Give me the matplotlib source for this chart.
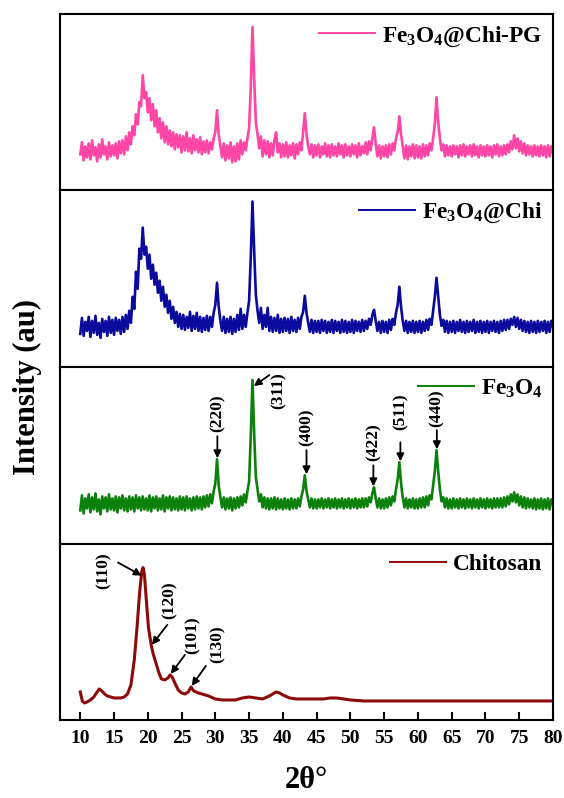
import numpy as np
import matplotlib.pyplot as plt

plt.rcParams['font.family'] = 'Liberation Serif'
plt.rcParams['font.weight'] = 'bold'
plt.rcParams['mathtext.fontset'] = 'custom'
plt.rcParams['mathtext.rm'] = 'Liberation Serif:bold'
plt.rcParams['mathtext.bf'] = 'Liberation Serif:bold'
plt.rcParams['mathtext.it'] = 'Liberation Serif:bold:italic'
plt.rcParams['mathtext.default'] = 'rm'

# 2theta sampling of the three magnetite scans (step 0.25 deg)
two_theta = np.arange(10, 80.001, 0.25)

fe3o4_chi_pg = [
    36, 48, 30, 44, 33, 47, 31, 50, 35, 43, 29, 46, 33, 51, 36, 44, 31, 48, 34, 45,
    35, 47, 32, 49, 37, 50, 36, 54, 40, 58, 46, 64, 55, 76, 66, 88, 84, 115, 92, 98,
    78, 92, 70, 86, 64, 80, 58, 72, 52, 68, 48, 64, 46, 60, 44, 58, 41, 56, 43, 55,
    38, 54, 40, 58, 39, 52, 37, 55, 40, 51, 38, 53, 36, 49, 38, 50, 37, 48, 41, 52,
    58, 80, 56, 44, 33, 47, 30, 45, 32, 48, 28, 44, 29, 47, 31, 50, 36, 48, 40, 52,
    62, 104, 163, 112, 68, 56, 42, 54, 34, 50, 36, 49, 33, 47, 35, 50, 58, 38, 47, 33,
    46, 34, 48, 33, 45, 35, 47, 32, 46, 36, 48, 40, 58, 77, 56, 44, 36, 46, 33, 45,
    35, 46, 33, 44, 36, 47, 34, 45, 33, 46, 35, 44, 34, 47, 36, 45, 33, 46, 35, 44,
    34, 46, 36, 45, 33, 47, 35, 44, 37, 48, 36, 49, 40, 52, 63, 46, 34, 45, 32, 44,
    34, 45, 33, 46, 36, 47, 40, 52, 58, 74, 56, 44, 32, 45, 31, 44, 34, 46, 32, 45,
    33, 44, 32, 46, 34, 45, 35, 47, 40, 52, 66, 93, 68, 52, 40, 46, 34, 45, 35, 44,
    34, 45, 36, 44, 33, 45, 35, 46, 34, 44, 36, 45, 34, 46, 35, 44, 33, 45, 35, 44,
    34, 45, 35, 44, 33, 45, 36, 46, 34, 44, 35, 45, 36, 46, 38, 49, 41, 55, 42, 52,
    39, 49, 37, 47, 35, 45, 36, 44, 34, 45, 35, 44, 34, 45, 35, 44, 33, 45, 34, 44, 38,
]

fe3o4_chi = [
    33, 49, 31, 45, 36, 50, 30, 46, 34, 51, 32, 44, 29, 48, 35, 46, 31, 50, 34, 47,
    32, 49, 36, 47, 33, 50, 35, 52, 38, 56, 44, 70, 58, 95, 78, 118, 108, 139, 112, 120,
    98, 112, 88, 102, 82, 94, 74, 86, 66, 80, 60, 72, 54, 66, 48, 60, 44, 55, 40, 53,
    38, 52, 37, 50, 39, 55, 36, 51, 38, 54, 36, 50, 35, 49, 37, 51, 36, 50, 40, 54,
    62, 84, 60, 46, 36, 50, 34, 48, 35, 50, 33, 48, 35, 52, 37, 58, 38, 52, 40, 54,
    66, 110, 165, 116, 72, 56, 44, 59, 38, 52, 40, 59, 36, 50, 35, 49, 36, 52, 34, 48,
    35, 49, 36, 48, 34, 50, 36, 47, 35, 49, 38, 50, 55, 71, 54, 44, 35, 47, 34, 46,
    35, 46, 34, 47, 36, 46, 34, 45, 35, 47, 34, 46, 36, 45, 34, 47, 35, 46, 34, 45,
    35, 47, 34, 46, 36, 45, 35, 47, 36, 46, 38, 48, 42, 52, 57, 46, 36, 45, 34, 46,
    35, 45, 34, 47, 37, 48, 42, 54, 62, 80, 60, 46, 36, 46, 34, 45, 35, 46, 34, 45,
    35, 46, 34, 45, 36, 47, 37, 48, 42, 56, 70, 89, 70, 52, 41, 47, 35, 46, 34, 45,
    35, 46, 34, 45, 36, 47, 35, 45, 34, 46, 35, 45, 36, 47, 34, 45, 35, 46, 34, 45,
    35, 46, 34, 45, 36, 46, 35, 45, 34, 46, 36, 47, 37, 47, 38, 48, 42, 50, 40, 49,
    38, 47, 36, 46, 35, 45, 34, 46, 35, 45, 34, 46, 35, 45, 36, 46, 34, 45, 35, 46, 40,
]

fe3o4 = [
    33, 48, 30, 45, 35, 49, 31, 46, 34, 50, 32, 44, 29, 47, 35, 46, 32, 49, 34, 45,
    33, 47, 31, 46, 35, 48, 33, 45, 32, 47, 34, 46, 32, 48, 35, 46, 33, 47, 34, 45,
    33, 48, 32, 46, 35, 47, 33, 45, 34, 48, 32, 46, 35, 47, 33, 46, 34, 45, 33, 47,
    34, 46, 33, 47, 35, 45, 33, 46, 34, 47, 35, 46, 34, 47, 36, 48, 37, 49, 40, 52,
    60, 84, 58, 46, 36, 46, 34, 45, 35, 46, 33, 45, 35, 46, 36, 47, 38, 49, 41, 52,
    62, 108, 163, 110, 66, 54, 42, 49, 36, 46, 35, 45, 34, 45, 35, 46, 34, 45, 35, 44,
    34, 45, 35, 44, 34, 45, 35, 44, 35, 45, 37, 47, 54, 68, 52, 44, 36, 45, 35, 44,
    35, 44, 36, 45, 35, 44, 36, 45, 35, 44, 36, 45, 35, 44, 36, 45, 35, 44, 36, 45,
    35, 44, 36, 45, 35, 44, 36, 45, 36, 45, 37, 46, 41, 50, 56, 45, 36, 45, 35, 44,
    35, 45, 36, 46, 38, 47, 42, 54, 64, 81, 60, 46, 36, 45, 35, 44, 36, 45, 35, 44,
    35, 45, 36, 46, 36, 47, 38, 48, 44, 58, 72, 93, 72, 54, 42, 46, 36, 45, 35, 44,
    35, 45, 36, 44, 35, 45, 36, 44, 35, 45, 36, 44, 35, 45, 36, 44, 35, 45, 36, 44,
    35, 45, 36, 44, 35, 45, 36, 45, 36, 45, 36, 46, 37, 47, 39, 49, 42, 51, 41, 49,
    38, 47, 36, 46, 35, 45, 36, 44, 35, 45, 34, 44, 35, 45, 34, 44, 35, 45, 34, 44, 39,
]

chitosan_2theta = [10.0, 10.3, 10.6, 11.0, 11.5, 12.0, 12.4, 12.8, 13.2, 13.6,
                   14.0, 14.5, 15.0, 15.5, 16.0, 16.5, 17.0, 17.5, 18.0, 18.4,
                   18.8, 19.1, 19.3, 19.5, 19.8, 20.1, 20.5, 20.8, 21.2, 21.6,
                   22.0, 22.5, 23.0, 23.3, 23.6, 24.0, 24.5, 25.0, 25.5, 26.0,
                   26.4, 26.8, 27.5, 28.0, 29.0, 30.0, 31.0, 32.0, 33.0, 34.0,
                   35.0, 36.0, 37.0, 38.0, 39.0, 39.5, 40.0, 41.0, 42.0, 43.0,
                   44.0, 45.0, 46.0, 47.0, 48.0, 49.0, 50.0, 52.0, 55.0, 60.0,
                   65.0, 70.0, 75.0, 80.0]
chitosan = [28, 19, 17, 18, 20, 23, 27, 31, 29, 26,
            24, 23, 22, 22, 22, 23, 26, 35, 60, 92,
            128, 148, 152, 145, 118, 92, 75, 66, 57, 48,
            41, 40, 42, 45, 43, 37, 30, 27, 26, 28,
            33, 29, 27, 26, 24, 21, 20, 20, 20, 22,
            23, 22, 21, 24, 28, 27, 25, 22, 21, 21,
            21, 21, 21, 22, 22, 21, 20, 19, 19, 19,
            19, 19, 19, 19]

# reflections marked with arrows: (label, text x, text y, arrow tail, arrow tip)
fe3o4_hkl = [
    ('(220)', 30.3, 130, (30.3, 107), (30.3, 85)),
    ('(311)', 39.3, 152, (38.0, 168), (35.7, 157)),
    ('(400)', 43.5, 116, (43.5, 93), (43.5, 69)),
    ('(422)', 53.4, 101, (53.4, 78), (53.4, 57)),
    ('(511)', 57.4, 131, (57.4, 101), (57.4, 82)),
    ('(440)', 62.8, 135, (62.8, 113), (62.8, 94)),
]
chitosan_hkl = [
    ('(110)', 13.4, 149, (15.6, 157), (19.1, 144)),
    ('(120)', 23.3, 119, (22.9, 95), (20.6, 75)),
    ('(101)', 26.6, 85, (25.5, 65), (23.4, 46)),
    ('(130)', 30.3, 76, (28.6, 54), (26.5, 34)),
]

series = [
    (two_theta, fe3o4_chi_pg, '#FF45A5', 'Fe$_3$O$_4$@Chi-PG', 1.9),
    (two_theta, fe3o4_chi, '#0A0A9C', 'Fe$_3$O$_4$@Chi', 1.9),
    (two_theta, fe3o4, '#0B800B', 'Fe$_3$O$_4$', 1.9),
    (chitosan_2theta, chitosan, '#8C0A0A', 'Chitosan', 2.2),
]

fig = plt.figure(figsize=(5.64, 7.98), dpi=100)
axes = fig.subplots(4, 1, sharex=True, gridspec_kw=dict(hspace=0))
fig.subplots_adjust(left=0.1064, right=0.9805, bottom=0.0977, top=0.9825)

for ax, (x, y, color, label, lw) in zip(axes, series):
    ax.plot(x, y, color=color, lw=lw, label=label)
    ax.set_ylim(0, 176)
    ax.set_yticks([])
    for sp in ax.spines.values():
        sp.set_linewidth(1.5)
    ax.tick_params(axis='x', which='both', bottom=False, labelbottom=False)
    leg = ax.legend(loc='upper right', frameon=False, fontsize=16.8, handlelength=2.4,
                    handletextpad=0.3, borderaxespad=0.15, borderpad=0.3)
    for h in leg.get_lines():
        h.set_linewidth(1.4)

def mark_peaks(ax, peaks):
    for text, tx, ty, tail, tip in peaks:
        ax.text(tx, ty, text, rotation=90, ha='center', va='center',
                fontsize=12.5, fontweight='bold')
        ax.annotate('', xy=tip, xytext=tail,
                    arrowprops=dict(arrowstyle='-|>', color='k', lw=1.3,
                                    mutation_scale=11, shrinkA=0, shrinkB=0))

mark_peaks(axes[2], fe3o4_hkl)
mark_peaks(axes[3], chitosan_hkl)

bottom = axes[3]
bottom.set_xlim(7, 80)
bottom.set_xticks(np.arange(10, 81, 5))
bottom.tick_params(axis='x', bottom=True, labelbottom=True, direction='in',
                   length=6, width=1.5, pad=7, labelsize=14)
for lab in bottom.get_xticklabels():
    lab.set_fontweight('bold')
bottom.set_xlabel('2θ°', fontsize=22, fontweight='bold', labelpad=14)

fig.text(0.048, 0.515, 'Intensity (au)', rotation=90, ha='center', va='center',
         fontsize=22, fontweight='bold')

fig.savefig('out.png', dpi=100)
